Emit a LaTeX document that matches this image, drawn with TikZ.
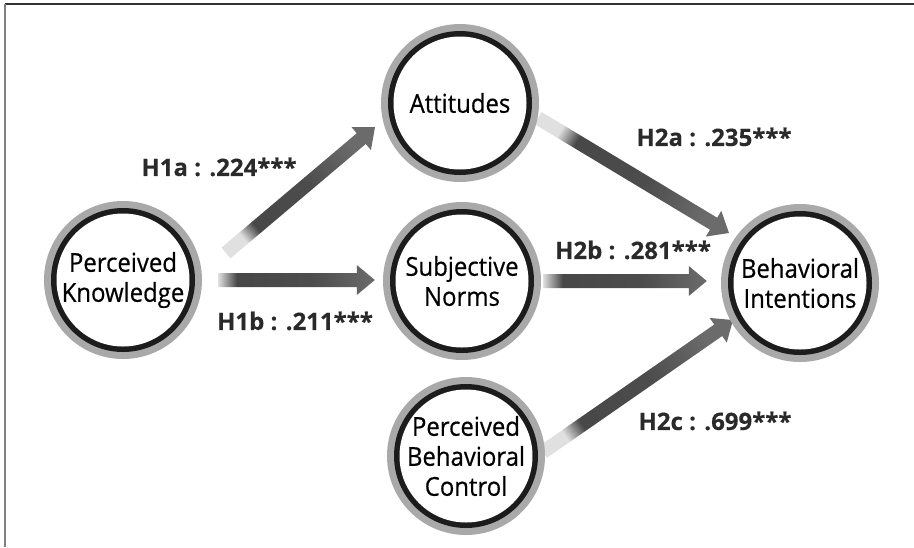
\documentclass[tikz,border=0pt]{standalone}
\usepackage{fontspec}
\setmainfont{Open Sans}
\usetikzlibrary{calc}
\definecolor{ringgray}{HTML}{A9A9A9}
\definecolor{ringblack}{HTML}{1C1C1C}
\definecolor{labelgray}{HTML}{2A2A2A}
\pgfdeclarehorizontalshading{fatshade}{100bp}{color(0bp)=(black!12); color(25bp)=(black!12); color(31bp)=(black!72); color(55bp)=(black!70); color(75bp)=(black!58); color(100bp)=(black!58)}
\pgfdeclarelayer{bg}
\pgfsetlayers{bg,main}
\newcommand{\fatarrow}[3]{%
  \coordinate (fa-base) at ($(#2)!18pt!(#1)$);
  \shade[shading=fatshade, shading angle=#3]
    ($(#1)!7pt!90:(#2)$) -- ($(fa-base)!7pt!-90:(#1)$) -- ($(fa-base)!15pt!-90:(#1)$)
    -- (#2) -- ($(fa-base)!15pt!90:(#1)$) -- ($(fa-base)!7pt!90:(#1)$)
    -- ($(#1)!7pt!-90:(#2)$) -- cycle;}
\tikzset{
  construct/.style={circle, minimum size=158pt, inner sep=0pt, fill=ringgray,
    align=center, font=\fontsize{26}{30}\selectfont\addfontfeatures{FakeBold=0.5,FakeStretch=0.92}, text=black,
    path picture={\fill[ringblack] (path picture bounding box.center) circle (72pt);
                  \fill[white] (path picture bounding box.center) circle (66.5pt);}},
  hlabel/.style={font=\fontsize{24}{28}\selectfont\bfseries\addfontfeatures{FakeBold=0.3}, text=labelgray, inner sep=0pt},
}
\begin{document}
\begin{tikzpicture}[x=1pt, y=-1pt]
\useasboundingbox (0,0) rectangle (914,547);
\draw[black!80, line width=1.3pt] (5,4) -- (914,4);
\draw[black!50, line width=1.6pt] (5,4) -- (5,547);

\node[construct] (pk)  at (123,280) {Perceived\\Knowledge};
\node[construct] (att) at (460,103) {Attitudes};
\node[construct] (sn)  at (462,281) {Subjective\\Norms};
\node[construct] (pbc) at (466,456) {Perceived\\Behavioral\\Control};
\node[construct] (bi)  at (800,283) {Behavioral\\Intentions};

\coordinate (h1a-s) at ($(pk)+(103,-27)$);
\coordinate (h1a-e) at ($(att)+(-85,24)$);
\coordinate (h1b-s) at ($(pk)+(95,0)$);
\coordinate (h1b-e) at ($(sn.west |- pk)+(-8,0)$);
\coordinate (h2a-s) at ($(att)+(78,15)$);
\coordinate (h2a-e) at ($(bi)+(-71,-50)$);
\coordinate (h2b-s) at ($(sn)+(81,0)$);
\coordinate (h2b-e) at ($(bi.west |- sn)+(-14,0)$);
\coordinate (h2c-s) at ($(pbc)+(77,-4)$);
\coordinate (h2c-e) at ($(bi)+(-67,37)$);

\begin{pgfonlayer}{bg}
\fatarrow{h1a-s}{h1a-e}{40.4}
\fatarrow{h1b-s}{h1b-e}{0}
\fatarrow{h2a-s}{h2a-e}{-31}
\fatarrow{h2b-s}{h2b-e}{0}
\fatarrow{h2c-s}{h2c-e}{34.8}
\end{pgfonlayer}

\node[hlabel] (l1a) at (219,167) {H1a : .224***};
\node[hlabel] (l1b) at (295,321) {H1b : .211***};
\node[hlabel] (l2a) at (714,137) {H2a : .235***};
\node[hlabel] (l2b) at (633,250) {H2b : .281***};
\node[hlabel] (l2c) at (715,421) {H2c : .699***};
\end{tikzpicture}
\end{document}
